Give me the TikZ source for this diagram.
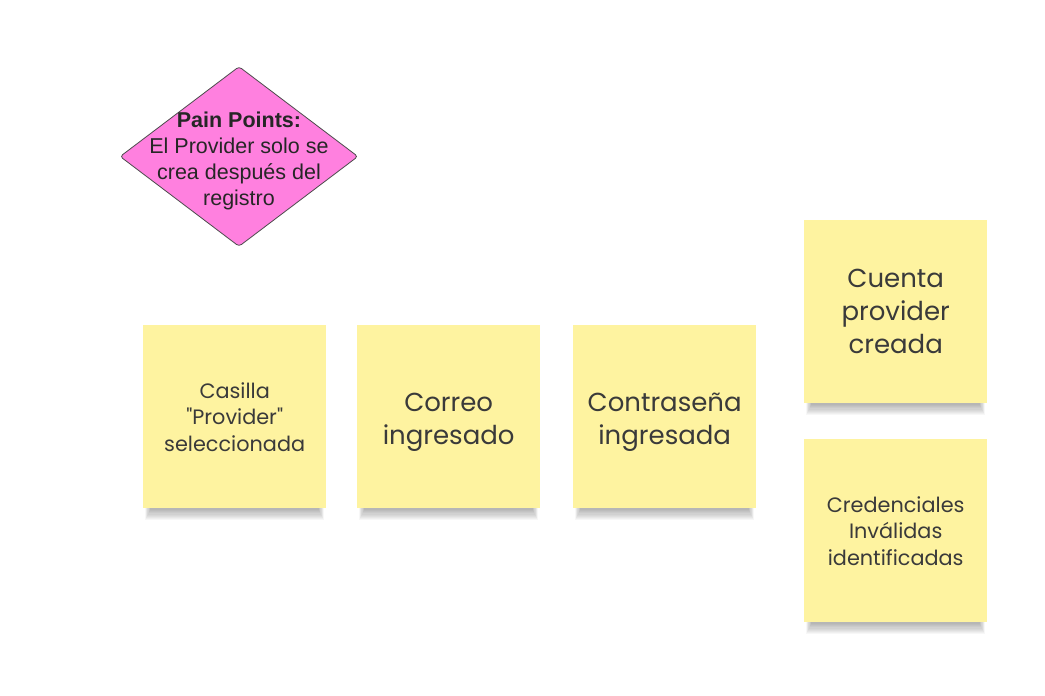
\documentclass[tikz,border=0pt]{standalone}
\usepackage{fontspec}
\setmainfont{Poppins}[Ligatures=TeXOff]
\newfontfamily\diafont{Liberation Sans}
\usetikzlibrary{shapes.geometric}
\definecolor{sticky}{HTML}{FEF3A0}
\definecolor{pinkfill}{HTML}{FF80DF}
\definecolor{txtgray}{HTML}{3A3A3A}
\tikzset{
  note/.style={minimum width=183pt, minimum height=183pt, fill=sticky, align=center, text=txtgray, inner sep=0pt},
  notetext/.style={align=center, text=txtgray, inner sep=0pt},
  bigtxt/.style={font=\fontsize{26}{33}\selectfont},
  smalltxt/.style={font=\fontsize{20.8}{26.5}\selectfont},
  pain/.style={diamond, aspect=1.32, minimum width=238pt, minimum height=180pt, fill=pinkfill, draw=black!70, line width=0.8pt, rounded corners=3pt, inner sep=0pt}
}
\newcommand{\shadowat}[2]{%
  \foreach \k in {1,...,10}{
    \fill[black, opacity=0.03] (#1+8-\k*0.6, #2+100+\k*0.9) rectangle (#1+183-8+\k*0.6, #2+183+1+\k*1.1);
  }%
}
\begin{document}
\begin{tikzpicture}[x=1pt,y=-1pt]
\useasboundingbox (0,0) rectangle (1045,696);
\fill[white] (0,0) rectangle (1045,696);
% shadows
\shadowat{143}{325}
\shadowat{357}{325}
\shadowat{573}{325}
\shadowat{804}{220}
\shadowat{804}{439}
% notes
\node[note, smalltxt, anchor=north west] (n1) at (143,325) {Casilla\\"Provider"\\seleccionada};
\node[note, anchor=north west] (n2) at (357,325) {};
\node[notetext, bigtxt] (n2t) at ([yshift=-6pt]n2.center) {Correo\\ingresado};
\node[note, anchor=north west] (n3) at (573,325) {};
\node[notetext, bigtxt] (n3t) at ([yshift=-6pt]n3.center) {Contraseña\\ingresada};
\node[note, bigtxt, anchor=north west] (n4) at (804,220) {Cuenta\\provider\\creada};
\node[note, smalltxt, anchor=north west] (n5) at (804,439) {Credenciales\\Inválidas\\identificadas};
% diamond
\node[pain] (p) at (239,156.5) {};
\node[font=\diafont\fontsize{21.5}{26}\selectfont, text=black!85, align=center] (pt) at (239,161) {\textbf{Pain Points:}\\El Provider solo se\\crea después del\\registro};
\end{tikzpicture}
\end{document}
